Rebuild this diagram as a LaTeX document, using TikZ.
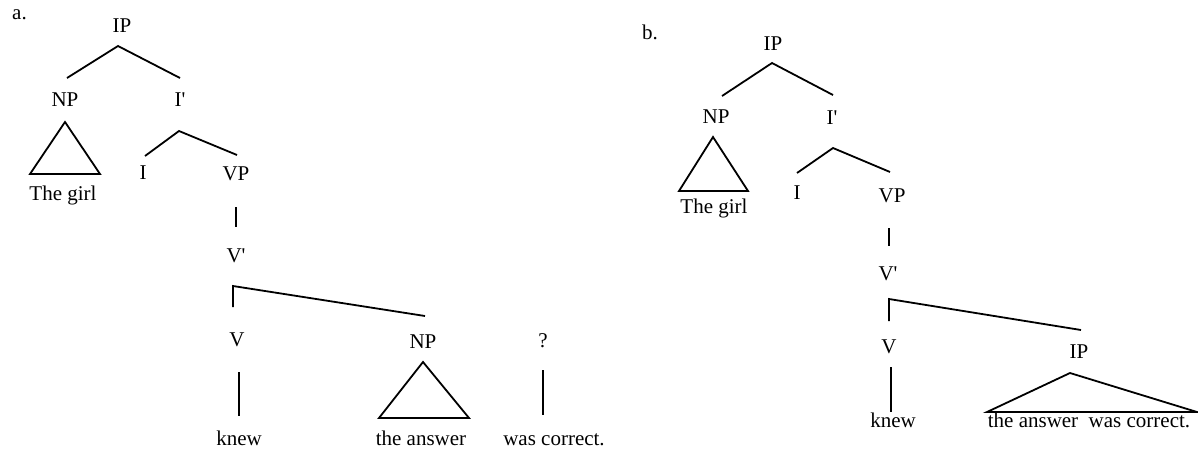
\documentclass[tikz,border=0pt]{standalone}
\usepackage{fontspec}
\setmainfont{Liberation Serif}
\begin{document}
\begin{tikzpicture}[x=1pt,y=-1pt,
  lbl/.style={font=\fontsize{21}{25}\selectfont, inner sep=0pt, anchor=base},
  branch/.style={line width=1.8pt, line join=miter}]
\useasboundingbox (0,0) rectangle (1198,448);
% ---------- tree a ----------
\node[lbl, anchor=base west] (la) at (12,19) {a.};
\node[lbl] (aIP) at (122,32) {IP};
\node[lbl] (aNP) at (65,106) {NP};
\node[lbl] (aIbar) at (180,106) {I\textquotesingle};
\node[lbl] (aGirl) at (63,200) {The girl};
\node[lbl] (aI) at (143,179) {I};
\node[lbl] (aVP) at (236,180) {VP};
\node[lbl] (aVbar) at (236,262) {V\textquotesingle};
\node[lbl] (aV) at (237,346) {V};
\node[lbl] (aNPb) at (423,348) {NP};
\node[lbl] (aQ) at (543,347) {?};
\node[lbl] (aKnew) at (239,445) {knew};
\node[lbl] (aAns) at (421,445) {the answer};
\node[lbl] (aWas) at (554,445) {was correct.};
% coordinates
\coordinate (aIPt) at (118,46);
\coordinate (aNPt) at (67,78);
\coordinate (aIbt) at (180,78);
\coordinate (aT1a) at (65,122);
\coordinate (aT1b) at (30,174);
\coordinate (aT1c) at (100,174);
\coordinate (aIbb) at (179,131);
\coordinate (aIt) at (145,156);
\coordinate (aVPt) at (237,155);
\coordinate (aVPb) at (236,207);
\coordinate (aVbt) at (236,227);
\coordinate (aVt) at (233,307);
\coordinate (aVbb) at (233,286);
\coordinate (aNPbt) at (425,316);
\coordinate (aVb) at (239,372);
\coordinate (aKt) at (239,416);
\coordinate (aT2a) at (423,362);
\coordinate (aT2b) at (379,418);
\coordinate (aT2c) at (469,418);
\coordinate (aQb) at (543,370);
\coordinate (aWt) at (543,415);
\draw[branch] (aNPt) -- (aIPt) -- (aIbt);
\draw[branch] (aT1a) -- (aT1b) -- (aT1c) -- cycle;
\draw[branch] (aIt) -- (aIbb) -- (aVPt);
\draw[branch] (aVPb) -- (aVbt);
\draw[branch] (aVt) -- (aVbb) -- (aNPbt);
\draw[branch] (aVb) -- (aKt);
\draw[branch] (aT2a) -- (aT2b) -- (aT2c) -- cycle;
\draw[branch] (aQb) -- (aWt);
% ---------- tree b ----------
\node[lbl, anchor=base west] (lb) at (642,39) {b.};
\node[lbl] (bIP) at (773,50) {IP};
\node[lbl] (bNP) at (716,123) {NP};
\node[lbl] (bIbar) at (832,124) {I\textquotesingle};
\node[lbl] (bGirl) at (714,213) {The girl};
\node[lbl] (bI) at (797,199) {I};
\node[lbl] (bVP) at (892,202) {VP};
\node[lbl] (bVbar) at (888,280) {V\textquotesingle};
\node[lbl] (bV) at (889,353) {V};
\node[lbl] (bIPb) at (1079,358) {IP};
\node[lbl] (bKnew) at (893,427) {knew};
\node[lbl] (bAns) at (1089,427) {the answer\hspace{0.25em} was correct.};
\coordinate (bIPt) at (772,63);
\coordinate (bNPt) at (722,96);
\coordinate (bIbt) at (833,95);
\coordinate (bT1a) at (713,137);
\coordinate (bT1b) at (679,191);
\coordinate (bT1c) at (748,191);
\coordinate (bIbb) at (833,148);
\coordinate (bIt) at (797,173);
\coordinate (bVPt) at (890,172);
\coordinate (bVPb) at (889,228);
\coordinate (bVbt) at (889,246);
\coordinate (bVt) at (889,321);
\coordinate (bVbb) at (889,299);
\coordinate (bIPbt) at (1081,330);
\coordinate (bVb) at (891,367);
\coordinate (bKt) at (891,412);
\coordinate (bT2a) at (1070,373);
\coordinate (bT2b) at (987,412);
\coordinate (bT2c) at (1197,412);
\draw[branch] (bNPt) -- (bIPt) -- (bIbt);
\draw[branch] (bT1a) -- (bT1b) -- (bT1c) -- cycle;
\draw[branch] (bIt) -- (bIbb) -- (bVPt);
\draw[branch] (bVPb) -- (bVbt);
\draw[branch] (bVt) -- (bVbb) -- (bIPbt);
\draw[branch] (bVb) -- (bKt);
\draw[branch] (bT2a) -- (bT2b) -- (bT2c) -- cycle;
\end{tikzpicture}
\end{document}
